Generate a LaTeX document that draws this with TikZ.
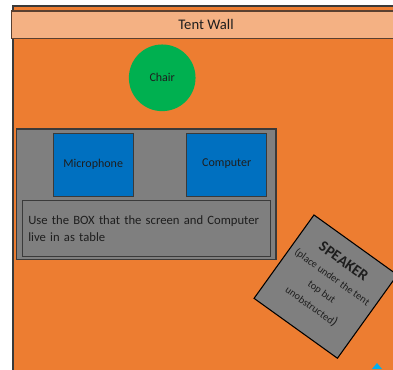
\documentclass[tikz,border=0pt]{standalone}
\usepackage{fontspec}
\setmainfont{Carlito}
\definecolor{tentorange}{HTML}{ED7D31}
\definecolor{walllight}{HTML}{F4B183}
\definecolor{chairgreen}{HTML}{00B050}
\definecolor{boxblue}{HTML}{0070C0}
\definecolor{tablegray}{HTML}{7F7F7F}
\definecolor{edgedark}{HTML}{3A3A3A}
\definecolor{walledge}{HTML}{5A4030}
\definecolor{markcyan}{HTML}{00B0F0}
\definecolor{textdark}{HTML}{1E1E1E}
\tikzset{
  banner/.style={draw=walledge, line width=0.9pt, fill=walllight, inner sep=0pt, text=textdark, font=\fontsize{11}{13}\selectfont},
  chairnode/.style={circle, fill=chairgreen, inner sep=0pt, text=textdark, font=\fontsize{9}{11}\selectfont},
  tablenode/.style={draw=edgedark, line width=0.9pt, fill=tablegray, inner sep=0pt},
  bluebox/.style={draw=edgedark, line width=0.8pt, fill=boxblue, inner sep=0pt, text=textdark, font=\fontsize{9}{11}\selectfont},
  notebox/.style={draw=edgedark, line width=0.9pt, fill=tablegray, inner xsep=4.5pt, text=textdark, align=left, font=\fontsize{9.5}{12.75}\selectfont},
  speakerbox/.style={draw=black, line width=0.8pt, fill=tablegray, inner sep=0pt, rotate=-35.7, minimum width=77pt, minimum height=77pt},
  speakertext/.style={rotate=-35.7, align=center, text=textdark, inner sep=0pt, font=\fontsize{7.8}{13.5}\selectfont}
}
\begin{document}
\begin{tikzpicture}[x=0.75pt,y=-0.75pt]
\useasboundingbox (0,0) rectangle (393,369);
\clip (0,0) rectangle (393,369);
% ground
\fill[tentorange] (13,6) rectangle (400,375);
\draw[edgedark, line width=0.9pt] (13,375) -- (13,6) -- (400,6);
% tent wall
\node[banner, minimum width=291.75pt, minimum height=20.6pt] (wall) at (206,24.75) {Tent Wall};
% chair
\node[chairnode, minimum size=50pt] (chair) at (162.2,77.8) {Chair};
% table
\node[tablenode, minimum width=194.5pt, minimum height=97.9pt] (table) at (146.35,194.25) {};
\node[bluebox, minimum width=59.8pt, minimum height=47.5pt] (mic) at (93.2,165) {\raisebox{3pt}{Microphone}};
\node[bluebox, minimum width=60pt, minimum height=47.5pt] (computer) at (226.7,165) {\raisebox{3pt}{Computer}};
\node[notebox, text width=177pt, minimum height=42pt] (note) at (146.3,228.7) {\mbox{Use the BOX that the screen and Computer}\\live in as table};
% speaker
\node[speakerbox] (speaker) at (325.7,286.6) {};
\node[speakertext] (spktext) at (327.5,284) {{\fontsize{11.5}{14}\selectfont\bfseries SPEAKER}\\(place under the tent\\top but\\unobstructed{\fontsize{10}{12}\selectfont)}};
% cyan marker
\fill[markcyan] (377,363) -- (382,369) -- (372,369) -- cycle;
\end{tikzpicture}
\end{document}
